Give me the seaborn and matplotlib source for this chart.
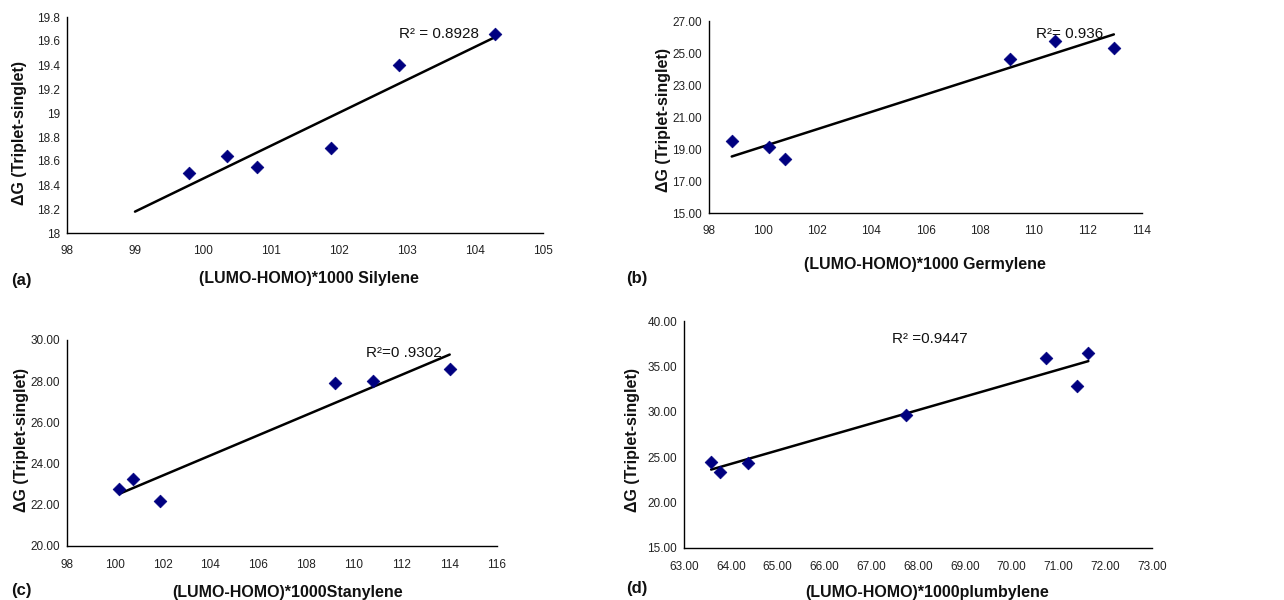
import numpy as np
import pandas as pd
import matplotlib
matplotlib.use("Agg")
import matplotlib.pyplot as plt
import seaborn as sns
from matplotlib.ticker import FuncFormatter, FixedLocator

# ---------------- data ----------------
si_x = [99.79, 100.35, 100.80, 101.88, 102.88, 104.29]
si_y = [18.50, 18.64, 18.55, 18.71, 19.40, 19.66]

ge_x = [98.84, 100.22, 100.80, 109.13, 110.80, 112.96]
ge_y = [19.48, 19.12, 18.35, 24.65, 25.72, 25.33]

sn_x = [100.19, 100.76, 101.91, 109.23, 110.82, 114.02]
sn_y = [22.76, 23.27, 22.17, 27.89, 27.99, 28.61]

pb_x = [63.58, 63.76, 64.36, 67.75, 70.74, 71.40, 71.64]
pb_y = [24.51, 23.37, 24.36, 29.65, 35.96, 32.88, 36.48]

si_xticks = [98, 99, 100, 101, 102, 103, 104, 105]
si_yticks = [18, 18.2, 18.4, 18.6, 18.8, 19, 19.2, 19.4, 19.6, 19.8]
ge_xticks = [98, 100, 102, 104, 106, 108, 110, 112, 114]
ge_yticks = [15, 17, 19, 21, 23, 25, 27]
sn_xticks = [98, 100, 102, 104, 106, 108, 110, 112, 114, 116]
sn_yticks = [20, 22, 24, 26, 28, 30]
pb_xticks = [63, 64, 65, 66, 67, 68, 69, 70, 71, 72, 73]
pb_yticks = [15, 20, 25, 30, 35, 40]

r2_texts = ["R\u00b2 = 0.8928", "R\u00b2= 0.936", "R\u00b2=0 .9302", "R\u00b2 =0.9447"]
x_labels = ["(LUMO-HOMO)*1000 Silylene", "(LUMO-HOMO)*1000 Germylene",
            "(LUMO-HOMO)*1000Stanylene", "(LUMO-HOMO)*1000plumbylene"]
y_label = "\u0394G (Triplet-singlet)"
panel_tags = ["(a)", "(b)", "(c)", "(d)"]

# ---------------- layout / style ----------------
W, H = 1284, 600
sns.set_theme(style="white")
plt.rcParams["font.family"] = ["Liberation Sans", "DejaVu Sans"]

fig = plt.figure(figsize=(W / 100, H / 100), dpi=100)
fig.patch.set_facecolor("white")

def rect(l, r, t, b):
    return [l / W, 1 - b / H, (r - l) / W, (b - t) / H]

panels = [
    dict(x=si_x, y=si_y, rect=rect(67, 543, 17, 233), xticks=si_xticks, yticks=si_yticks,
         xfmt="g", yfmt="g", line_x0=99.0,
         r2_pos=(102.88, 19.66), xlab=(309, 278), ylab=(20, 133), tag=(21, 280)),
    dict(x=ge_x, y=ge_y, rect=rect(709, 1142, 21, 213), xticks=ge_xticks, yticks=ge_yticks,
         xfmt="g", yfmt=".2f", line_x0=None,
         r2_pos=(110.1, 26.2), xlab=(925, 265), ylab=(664, 120), tag=(637, 278)),
    dict(x=sn_x, y=sn_y, rect=rect(67, 497, 340, 546), xticks=sn_xticks, yticks=sn_yticks,
         xfmt="g", yfmt=".2f", line_x0=None,
         r2_pos=(110.5, 29.35), xlab=(288, 592), ylab=(22, 440), tag=(21, 591)),
    dict(x=pb_x, y=pb_y, rect=rect(684, 1152, 321, 548), xticks=pb_xticks, yticks=pb_yticks,
         xfmt=".2f", yfmt=".2f", line_x0=None,
         r2_pos=(67.44, 37.98), xlab=(927, 592), ylab=(633, 440), tag=(637, 588)),
]

for i, p in enumerate(panels):
    ax = fig.add_axes(p["rect"])
    df = pd.DataFrame({"x": p["x"], "y": p["y"]})

    # linear trend line (least squares fit)
    slope, icpt = np.polyfit(df["x"], df["y"], 1)
    x0 = p["line_x0"] if p["line_x0"] is not None else df["x"].min()
    tl = pd.DataFrame({"x": [x0, df["x"].max()]})
    tl["y"] = slope * tl["x"] + icpt
    sns.lineplot(data=tl, x="x", y="y", ax=ax, color="black", linewidth=1.8)

    sns.scatterplot(data=df, x="x", y="y", ax=ax, marker="D", s=42,
                    color="#000080", edgecolor="#000080", linewidth=0.5, zorder=3)

    ax.set_xlim(p["xticks"][0], p["xticks"][-1])
    ax.set_ylim(p["yticks"][0], p["yticks"][-1])
    ax.xaxis.set_major_locator(FixedLocator(p["xticks"]))
    ax.yaxis.set_major_locator(FixedLocator(p["yticks"]))
    xf, yf = p["xfmt"], p["yfmt"]
    ax.xaxis.set_major_formatter(FuncFormatter(lambda v, pos, f=xf: format(round(v, 6), f)))
    ax.yaxis.set_major_formatter(FuncFormatter(lambda v, pos, f=yf: format(round(v, 6), f)))

    for s in ["top", "right"]:
        ax.spines[s].set_visible(False)
    for s in ["left", "bottom"]:
        ax.spines[s].set_color("black")
        ax.spines[s].set_linewidth(1.0)
    ax.tick_params(axis="both", which="major", direction="out", length=3, width=0.8,
                   color="black", labelsize=8.5, labelcolor="#222222", pad=2)
    ax.tick_params(axis="x", pad=6)
    ax.set_facecolor("white")
    ax.grid(False)

    ax.set_xlabel(x_labels[i], fontsize=11.5, fontweight="bold", color="#111111")
    ax.set_ylabel(y_label, fontsize=11.5, fontweight="bold", color="#111111")
    ax.xaxis.set_label_coords(p["xlab"][0] / W, 1 - p["xlab"][1] / H, transform=fig.transFigure)
    ax.yaxis.set_label_coords(p["ylab"][0] / W, 1 - p["ylab"][1] / H, transform=fig.transFigure)
    ax.xaxis.label.set_va("center")
    ax.yaxis.label.set_va("center")

    ax.text(p["r2_pos"][0], p["r2_pos"][1], r2_texts[i], fontsize=11,
            ha="left", va="center", color="#111111")

    fig.text(p["tag"][0] / W, 1 - p["tag"][1] / H, panel_tags[i], fontsize=12,
             fontweight="bold", ha="center", va="center", color="#111111")

fig.savefig("out.png", dpi=100, facecolor="white")
